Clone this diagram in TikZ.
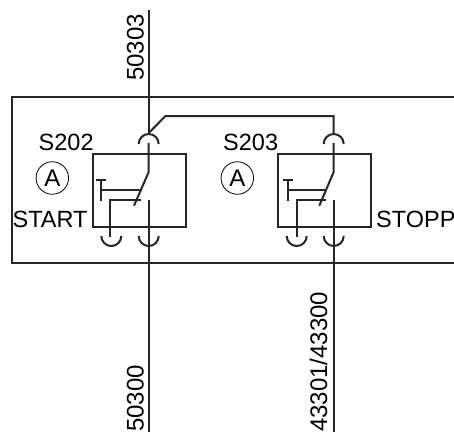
\documentclass[tikz,border=0pt]{standalone}
\usepackage{fontspec}
\setmainfont{Liberation Sans}
\usetikzlibrary{positioning}
\tikzset{
  wire/.style={line width=2pt, black!85},
  lbl/.style={inner sep=0pt, font=\fontsize{23.5}{25}\selectfont},
  vlbl/.style={inner sep=0pt, rotate=90, font=\fontsize{24}{26}\selectfont},
  circ/.style={draw, circle, line width=.8pt, minimum size=32.5pt, inner sep=0pt, font=\fontsize{24}{26}\selectfont},
  swbox/.style={draw, wire, rectangle, minimum width=93pt, minimum height=73pt, inner sep=0pt}
}
\begin{document}
\begin{tikzpicture}[x=1pt,y=-1pt]
  \useasboundingbox (0,0) rectangle (454,432);
  % outer frame, open at the right
  \coordinate (fr) at (454,97);
  \coordinate (ftl) at (11.5,97);
  \coordinate (fbl) at (11.5,263);
  \coordinate (br) at (454,263);
  \draw [wire] (fr) -- (ftl) -- (fbl) -- (br);
  % first switch
  \node [swbox] at (139.5,190) (s1) {};
  \coordinate (w1t) at (148.7,10);
  \coordinate (w1a) at (148.7,133);
  \coordinate (w1b) at (148.7,143);
  \coordinate (w1h) at (148.7,172);
  \coordinate (w1e) at (134,205.7);
  \coordinate (w1f) at (148.7,200);
  \coordinate (w1g) at (148.7,246);
  \coordinate (w1z) at (148.7,432);
  \coordinate (a1) at (138.7,144);
  \coordinate (b1) at (138.7,236);
  \coordinate (c1) at (101.3,236);
  \draw [wire] (w1t) -- (w1a);
  \draw [wire] (a1) arc [start angle=180, end angle=360, radius=10];
  \draw [wire] (w1b) -- (w1h) -- (w1e);
  \draw [wire] (w1f) -- (w1g) -- (w1z);
  \draw [wire] (b1) arc [start angle=180, end angle=0, radius=10];
  \draw [wire] (c1) arc [start angle=180, end angle=0, radius=10];
  \coordinate (t1l) at (96,180);
  \coordinate (t1r) at (106,180);
  \coordinate (t1m) at (101,180);
  \coordinate (t1b) at (101,201);
  \coordinate (p1a) at (101,190);
  \coordinate (p1b) at (139.5,190);
  \coordinate (q1a) at (140.5,200);
  \coordinate (q1b) at (110,200);
  \coordinate (q1c) at (110,237);
  \draw [wire] (t1l) -- (t1r);
  \draw [wire] (t1m) -- (t1b);
  \draw [wire] (p1a) -- (p1b);
  \draw [wire] (q1a) -- (q1b) -- (q1c);
  % second switch
  \node [swbox] at (324.7,190) (s2) {};
  \coordinate (w2a) at (333.7,133);
  \coordinate (w2b) at (333.7,143);
  \coordinate (w2h) at (333.7,172);
  \coordinate (w2e) at (319.3,205.7);
  \coordinate (w2f) at (333.7,200);
  \coordinate (w2g) at (333.7,246);
  \coordinate (w2z) at (333.7,432);
  \coordinate (a2) at (323.7,144);
  \coordinate (b2) at (323.7,236);
  \coordinate (c2) at (286.7,236);
  \draw [wire] (a2) arc [start angle=180, end angle=360, radius=10];
  \draw [wire] (w2b) -- (w2h) -- (w2e);
  \draw [wire] (w2f) -- (w2g) -- (w2z);
  \draw [wire] (b2) arc [start angle=180, end angle=0, radius=10];
  \draw [wire] (c2) arc [start angle=180, end angle=0, radius=10];
  \coordinate (t2l) at (282.7,180);
  \coordinate (t2r) at (292.7,180);
  \coordinate (t2m) at (287.7,180);
  \coordinate (t2b) at (287.7,201);
  \coordinate (p2a) at (287.7,190);
  \coordinate (p2b) at (325,190);
  \coordinate (q2a) at (325.5,200);
  \coordinate (q2b) at (296.7,200);
  \coordinate (q2c) at (296.7,237);
  \draw [wire] (t2l) -- (t2r);
  \draw [wire] (t2m) -- (t2b);
  \draw [wire] (p2a) -- (p2b);
  \draw [wire] (q2a) -- (q2b) -- (q2c);
  % link between the switches
  \coordinate (k1) at (165.5,116);
  \coordinate (k2) at (333.7,116);
  \draw [wire] (w1a) -- (k1) -- (k2) -- (w2a);
  % labels
  \node [lbl, anchor=base west] at (38.5,150) (n202) {S202};
  \node [lbl, anchor=base west] at (223,150) (n203) {S203};
  \node [circ] at (52.3,178) (ca1) {A};
  \node [circ] at (237.3,178) (ca2) {A};
  \node [lbl, anchor=base west] at (12.5,227.5) (nstart) {START};
  \node [lbl, anchor=base west] at (376,227) (nstop) {STOPP};
  \node [vlbl, anchor=base west] at (143.5,81) (n50303) {50303};
  \node [vlbl, anchor=base west] at (143.5,432) (n50300) {50300};
  \node [vlbl, anchor=base west] at (327,432) (n43301) {43301/43300};
\end{tikzpicture}
\end{document}
